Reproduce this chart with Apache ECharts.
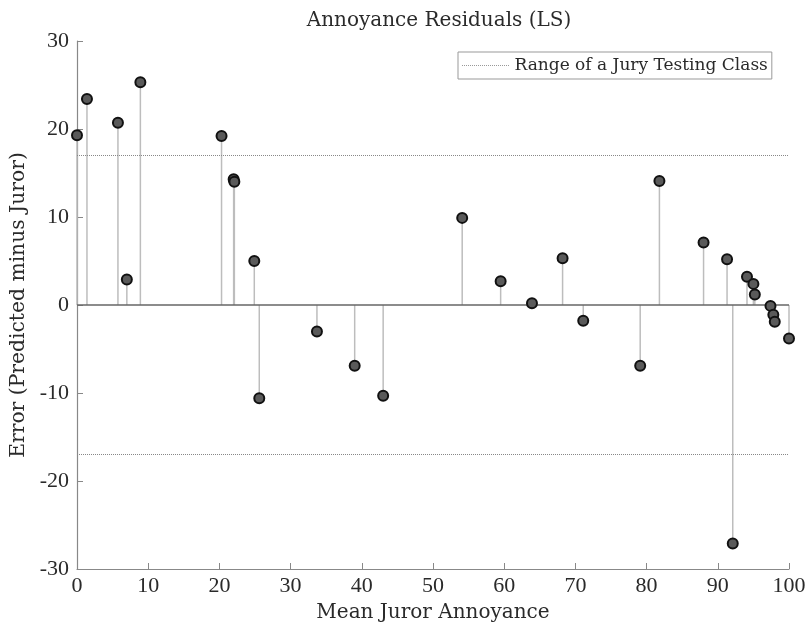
<!DOCTYPE html>
<html>
<head>
<meta charset="utf-8">
<script src="https://cdn.jsdelivr.net/npm/echarts@6/dist/echarts.min.js"></script>
<style>
  html, body { margin: 0; padding: 0; background: #fff; }
  #chart { width: 806px; height: 628px; }
</style>
</head>
<body>
<div id="chart"></div>
<script>
// 数据：平均陪审员烦恼度 与 误差
var annoyance = [0, 1.4, 5.75, 7.0, 8.9, 20.3, 22.0, 22.1, 24.9, 25.6, 33.7, 39.0, 43.0, 54.1, 59.5,
  63.9, 68.2, 71.1, 79.1, 81.8, 88.0, 91.3, 92.1, 94.1, 95.0, 95.2, 97.4, 97.8, 98.0, 100.0];
var residual = [19.3, 23.4, 20.7, 2.9, 25.3, 19.2, 14.3, 14.0, 5.0, -10.6, -3.0, -6.9, -10.3, 9.9, 2.7,
  0.2, 5.3, -1.8, -6.9, 14.1, 7.1, 5.2, -27.1, 3.2, 2.4, 1.2, -0.1, -1.1, -1.9, -3.8];
var classRange = [17, -17];
var xTicks = [0, 100, 10];
var yTicks = [-30, 30, 10];

var points = annoyance.map(function (x, i) { return [x, residual[i]]; });
var textFont = "'DejaVu Serif', serif";
var numFont = "'Liberation Serif', serif";

// 图例用的点线图标
var dotPath = 'path://';
for (var i = 0; i < 24; i++) {
  dotPath += 'M' + (i * 4) + ',0h2v2h-2z';
}

var chart = echarts.init(document.getElementById('chart'));
var option = {
  animation: false,
  backgroundColor: '#fff',
  title: {
    text: 'Annoyance Residuals (LS)',
    left: 434, textAlign: 'center', top: 6,
    textStyle: { fontFamily: textFont, fontSize: 20, fontWeight: 'normal', color: '#2a2a2a' }
  },
  legend: {
    left: 458, top: 52,
    data: [{ name: 'Range of a Jury Testing Class', icon: dotPath }],
    itemWidth: 48, itemHeight: 1, itemGap: 6,
    itemStyle: { color: '#999' },
    borderColor: '#999', borderWidth: 1, borderRadius: 0,
    padding: [5, 4, 5, 4],
    textStyle: { fontFamily: textFont, fontSize: 17, color: '#2a2a2a' }
  },
  grid: { left: 77, right: 17, top: 41, bottom: 59, outerBoundsMode: 'none' },
  xAxis: {
    type: 'value', min: xTicks[0], max: xTicks[1], interval: xTicks[2],
    name: 'Mean Juror Annoyance', nameLocation: 'middle', nameGap: 34,
    nameTextStyle: { fontFamily: textFont, fontSize: 20, color: '#2a2a2a' },
    axisLine: { onZero: false, lineStyle: { color: '#888', width: 1.2 } },
    axisTick: { inside: true, length: 6, lineStyle: { color: '#888' } },
    axisLabel: { fontFamily: numFont, fontSize: 22, color: '#2a2a2a', margin: 6 },
    splitLine: { show: false }
  },
  yAxis: {
    type: 'value', min: yTicks[0], max: yTicks[1], interval: yTicks[2],
    name: 'Error (Predicted minus Juror)', nameLocation: 'middle', nameGap: 40,
    nameTextStyle: { fontFamily: textFont, fontSize: 20.3, color: '#2a2a2a' },
    axisLine: { show: true, onZero: false, lineStyle: { color: '#888', width: 1.2 } },
    axisTick: { show: true, inside: true, length: 6, lineStyle: { color: '#888' } },
    axisLabel: { fontFamily: numFont, fontSize: 22, color: '#2a2a2a', margin: 8 },
    splitLine: { show: false }
  },
  series: [
    {
      name: 'Range of a Jury Testing Class',
      type: 'line',
      data: [],
      symbol: 'none',
      color: '#999',
      lineStyle: { type: 'dotted', color: '#888', width: 1 },
      markLine: {
        silent: true, symbol: 'none',
        label: { show: false },
        lineStyle: { type: 'dotted', color: '#888', width: 1 },
        data: classRange.map(function (v) { return { yAxis: v }; })
      }
    },
    {
      // 基线 y=0
      type: 'line', data: [], silent: true,
      markLine: {
        silent: true, symbol: 'none', label: { show: false },
        lineStyle: { type: 'solid', color: '#666', width: 1.5 },
        data: [{ yAxis: 0 }]
      }
    },
    {
      // 茎线
      type: 'custom',
      silent: true,
      data: points,
      renderItem: function (params, api) {
        var p0 = api.coord([api.value(0), 0]);
        var p1 = api.coord([api.value(0), api.value(1)]);
        return {
          type: 'line',
          shape: { x1: p0[0], y1: p0[1], x2: p1[0], y2: p1[1] },
          style: { stroke: '#bdbdbd', lineWidth: 1.5 }
        };
      },
      z: 2
    },
    {
      type: 'scatter',
      data: points,
      symbol: 'circle',
      symbolSize: 10,
      itemStyle: { color: '#5a5a5a', borderColor: '#111', borderWidth: 2, opacity: 1 },
      z: 5
    }
  ]
};
chart.setOption(option);
</script>
</body>
</html>
